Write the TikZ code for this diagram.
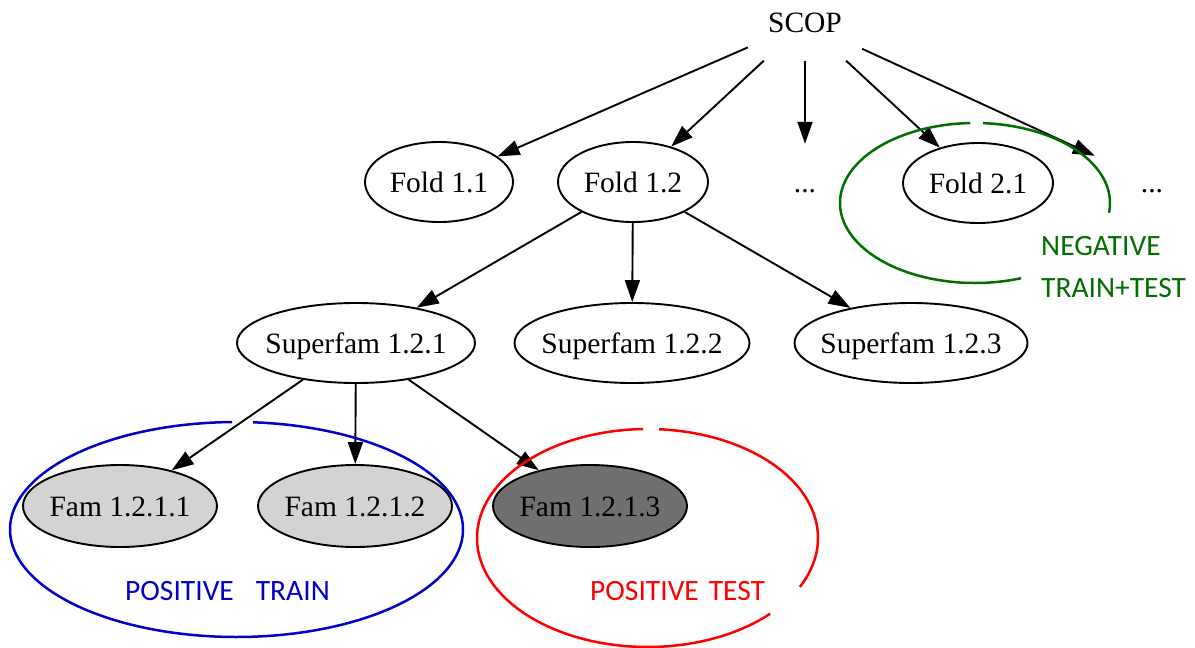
\documentclass[tikz,border=0pt]{standalone}
\usepackage{fontspec}
\setmainfont{Liberation Serif}
\newfontfamily\annfont{Carlito}
\usetikzlibrary{shapes.geometric,arrows.meta}
\newcommand\zb[1]{\makebox[0pt]{#1}}
\definecolor{famlight}{RGB}{211,211,211}
\definecolor{famdark}{RGB}{112,112,112}
\definecolor{annblue}{RGB}{0,0,200}
\definecolor{annred}{RGB}{255,0,0}
\definecolor{anngreen}{RGB}{0,110,0}
\begin{document}
\begin{tikzpicture}[x=1pt,y=-1pt,
  every node/.style={font=\fontsize{29.5}{34}\selectfont, inner sep=0pt, text height=20pt, text depth=0pt},
  nodeell/.style={ellipse, draw, line width=1.9pt, minimum height=80pt},
  famell/.style={ellipse, draw, line width=1.9pt, minimum height=82pt, minimum width=194pt},
  plainbox/.style={rectangle, minimum width=114pt, minimum height=76pt},
  edge/.style={line width=1.9pt, -{Triangle[length=22pt,width=15pt]}},
  annlabel/.style={font=\annfont\fontsize{29.5}{34}\selectfont, anchor=base west},
  annline/.style={line width=2.5pt}
]
\useasboundingbox (0,0) rectangle (1195,648);

% nodes
\node[plainbox] (scop) at (805,22.5) {SCOP};
\node[nodeell, minimum width=148pt] (f11) at (439,182) {\zb{Fold 1.1}};
\node[nodeell, minimum width=150pt] (f12) at (633,182) {\zb{Fold 1.2}};
\node[plainbox] (d1) at (805,182) {...};
\node[nodeell, minimum width=150pt] (f21) at (978,183) {\zb{Fold 2.1}};
\node[plainbox] (d2) at (1152,182) {...};
\node[nodeell, minimum width=238pt] (s1) at (356,343) {\zb{Superfam 1.2.1}};
\node[nodeell, minimum width=235pt] (s2) at (632,343) {\zb{Superfam 1.2.2}};
\node[nodeell, minimum width=233pt] (s3) at (911,343) {\zb{Superfam 1.2.3}};
\node[famell, fill=famlight] (m1) at (120,506) {\zb{Fam 1.2.1.1}};
\node[famell, fill=famlight] (m2) at (355,506) {\zb{Fam 1.2.1.2}};
\node[famell, fill=famdark] (m3) at (590,506) {\zb{Fam 1.2.1.3}};

% edges
\draw[edge] (scop) -- (f11);
\draw[edge] (scop) -- (f12);
\draw[edge] (scop) -- (d1);
\draw[edge] (scop) -- (f21);
\draw[edge] (scop) -- (d2);
\draw[edge] (f12) -- (s1);
\draw[edge] (f12) -- (s2);
\draw[edge] (f12) -- (s3);
\draw[edge] (s1) -- (m1);
\draw[edge] (s1) -- (m2);
\draw[edge] (s1) -- (m3);

% annotation loops
\draw[annline, annblue] plot[domain=91.1:445.8, samples=140, smooth]
  ({236.5+226.5*cos(\x)},{529.5-107.5*sin(\x)});
\draw[annline, annred] plot[domain=-26.7:86.1, samples=60, smooth]
  ({647.5+170.5*cos(\x)},{538-109*sin(\x)});
\draw[annline, annred] plot[domain=91.5:316, samples=100, smooth]
  ({647.5+170.5*cos(\x)},{538-109*sin(\x)});
\draw[annline, anngreen] plot[domain=-7:86.6, samples=60, smooth]
  ({975+135*cos(\x)},{203-80*sin(\x)});
\draw[annline, anngreen] plot[domain=92:290, samples=100, smooth]
  ({975+135*cos(\x)},{203-80*sin(\x)});

% annotation labels
\node[annlabel, text=anngreen] (neg) at (1041,255) {NEGATIVE};
\node[annlabel, text=anngreen] (tt) at (1041,297) {TRAIN+TEST};
\node[annlabel, text=annblue] (ptrain) at (125,600) {POSITIVE\hspace{22pt}TRAIN};
\node[annlabel, text=annred] (ptest) at (590,600) {POSITIVE\hspace{10pt}TEST};
\end{tikzpicture}
\end{document}
